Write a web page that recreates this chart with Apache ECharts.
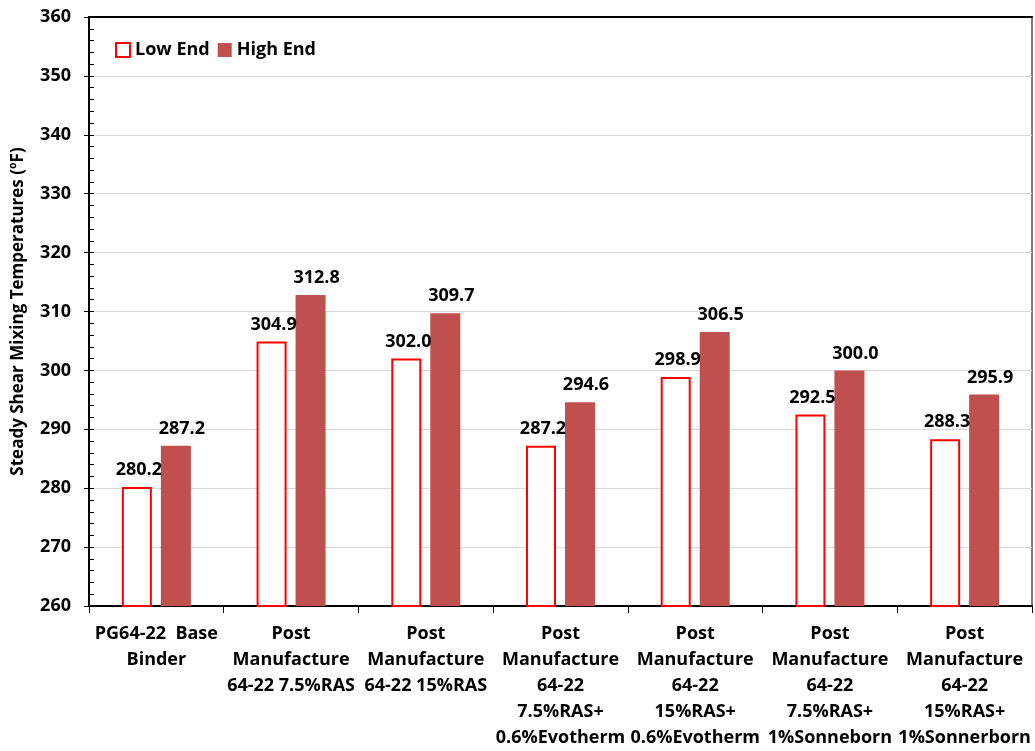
<!DOCTYPE html>
<html>
<head>
<meta charset="utf-8">
<script src="https://cdn.jsdelivr.net/npm/echarts@6/dist/echarts.min.js"></script>
<style>html,body{margin:0;padding:0;background:#fff;overflow:hidden}#c{width:1035px;height:751px}</style>
</head>
<body>
<div id="c"></div>
<script>
const categories = [
  "PG64-22  Base\nBinder",
  "Post\nManufacture\n64-22 7.5%RAS",
  "Post\nManufacture\n64-22 15%RAS",
  "Post\nManufacture\n64-22\n7.5%RAS+\n0.6%Evotherm",
  "Post\nManufacture\n64-22\n15%RAS+\n0.6%Evotherm",
  "Post\nManufacture\n64-22\n7.5%RAS+\n1%Sonneborn",
  "Post\nManufacture\n64-22\n15%RAS+\n1%Sonnerborn"
];
const lowEnd = [280.2, 304.9, 302.0, 287.2, 298.9, 292.5, 288.3];
const highEnd = [287.2, 312.8, 309.7, 294.6, 306.5, 300.0, 295.9];
const yTicks = { min: 260, max: 360, interval: 10 };
const yTitle = "Steady Shear Mixing Temperatures (ºF)";

const FONT = "'Open Sans', sans-serif";
const chart = echarts.init(document.getElementById('c'), null, { renderer: 'canvas' });
chart.setOption({
  animation: false,
  backgroundColor: '#fff',
  textStyle: { fontFamily: FONT },
  grid: { left: 89, right: 3, top: 17, bottom: 144, show: true, borderColor: '#808080', borderWidth: 2, backgroundColor: 'transparent' },
  legend: {
    left: 110, top: 36, itemWidth: 14, itemHeight: 14, itemGap: 8,
    textStyle: { fontFamily: FONT, fontWeight: 'bold', fontSize: 18, color: '#000' },
    data: [
      { name: 'Low End', icon: 'rect', itemStyle: { color: '#fff', borderColor: '#ff0000', borderWidth: 2 } },
      { name: 'High End', icon: 'rect' }
    ]
  },
  xAxis: [{
    type: 'category', data: categories, position: 'bottom',
    axisLine: { lineStyle: { color: '#000', width: 2 } },
    axisTick: { show: true, alignWithLabel: false, length: 7, lineStyle: { color: '#000' } },
    axisLabel: { interval: 0, fontFamily: FONT, fontWeight: 'bold', fontSize: 18, color: '#000', lineHeight: 26, margin: 15 }
  }, {
    type: 'category', data: categories, position: 'top',
    axisLine: { lineStyle: { color: '#000', width: 2 } },
    axisTick: { show: false }, axisLabel: { show: false }
  }],
  yAxis: [{
    type: 'value', min: yTicks.min, max: yTicks.max, interval: yTicks.interval,
    name: yTitle, nameLocation: 'middle', nameRotate: 90, nameGap: 62,
    nameTextStyle: { fontFamily: FONT, fontWeight: 'bold', fontSize: 17, color: '#000' },
    axisLine: { show: true, lineStyle: { color: '#000', width: 2 } },
    axisTick: { show: true, length: 5, lineStyle: { color: '#000' } },
    axisLabel: { fontFamily: FONT, fontWeight: 'bold', fontSize: 18, color: '#000', margin: 18 },
    splitLine: { show: true, lineStyle: { color: '#d9d9d9', width: 1 } }
  }, {
    type: 'value', min: yTicks.min, max: yTicks.max, interval: 2, position: 'left',
    axisLine: { show: false },
    axisTick: { show: true, inside: true, length: 5, lineStyle: { color: '#000' } },
    axisLabel: { show: false }, splitLine: { show: false }
  }],
  series: [{
    name: 'Low End', type: 'bar', data: lowEnd, barWidth: 30, barGap: '30%',
    itemStyle: { color: '#fff', borderColor: '#ff0000', borderWidth: 2 },
    label: { show: true, position: 'top', distance: 8, offset: [2, 0], fontFamily: FONT, fontWeight: 'bold', fontSize: 18, color: '#000',
      formatter: p => p.value.toFixed(1) }
  }, {
    name: 'High End', type: 'bar', data: highEnd, barWidth: 30,
    itemStyle: { color: '#c0504d' },
    label: { show: true, position: 'top', distance: 8, offset: [6, 0], fontFamily: FONT, fontWeight: 'bold', fontSize: 18, color: '#000',
      formatter: p => p.value.toFixed(1) }
  }]
});
</script>
</body>
</html>
